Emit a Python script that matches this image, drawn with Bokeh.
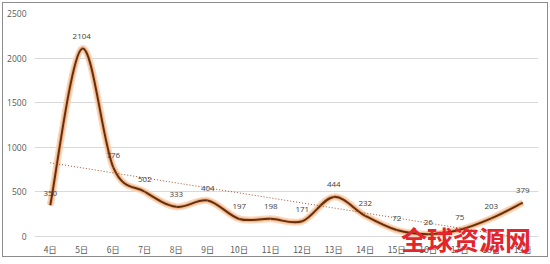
import numpy as np
from bokeh.plotting import figure
from bokeh.models import Range1d, FixedTicker, Label, ColumnDataSource
from bokeh.core.properties import value
from bokeh.embed import file_html
from bokeh.resources import INLINE

days = ["4日", "5日", "6日", "7日", "8日", "9日", "10日", "11日", "12日", "13日",
        "14日", "15日", "16日", "17日", "18日", "19日"]
counts = [350, 2104, 776, 502, 333, 404, 197, 198, 171, 444, 232, 72, 26, 75, 203, 379]
y_ticks = [0, 500, 1000, 1500, 2000, 2500]
watermark = "全球资源网"

xs = np.arange(len(days), dtype=float)
ys = np.array(counts, dtype=float)

# smoothed line segments (Catmull-Rom style Bezier control points)
n = len(xs)
seg = dict(x0=[], y0=[], x1=[], y1=[], cx0=[], cy0=[], cx1=[], cy1=[])
for i in range(n - 1):
    p0 = (xs[max(i - 1, 0)], ys[max(i - 1, 0)])
    p1 = (xs[i], ys[i])
    p2 = (xs[i + 1], ys[i + 1])
    p3 = (xs[min(i + 2, n - 1)], ys[min(i + 2, n - 1)])
    seg["x0"].append(p1[0]); seg["y0"].append(p1[1])
    seg["x1"].append(p2[0]); seg["y1"].append(p2[1])
    seg["cx0"].append(p1[0] + (p2[0] - p0[0]) / 6); seg["cy0"].append(p1[1] + (p2[1] - p0[1]) / 6)
    seg["cx1"].append(p2[0] - (p3[0] - p1[0]) / 6); seg["cy1"].append(p2[1] - (p3[1] - p1[1]) / 6)
seg_src = ColumnDataSource(seg)

# linear trendline
slope, intercept = np.polyfit(xs, ys, 1)
trend_x = [xs[0], xs[-1]]
trend_y = [intercept + slope * xs[0], intercept + slope * xs[-1]]

p = figure(width=546, height=255, output_backend="svg", toolbar_location=None,
           x_range=Range1d(-0.5, 15.5), y_range=Range1d(-246.6, 2500),
           min_border_left=31, min_border_right=11, min_border_top=10, min_border_bottom=0)
p.styles = {"margin-left": "2px", "margin-top": "2px", "border": "1px solid #8c8c8c"}
p.outline_line_color = None
p.background_fill_color = "white"
p.border_fill_color = "white"

p.xgrid.visible = False
p.ygrid.ticker = FixedTicker(ticks=y_ticks)
p.ygrid.grid_line_color = "#d9d9d9"
p.ygrid.grid_line_width = 1

p.yaxis.ticker = FixedTicker(ticks=y_ticks)
p.xaxis.ticker = FixedTicker(ticks=list(range(len(days))))
p.xaxis.major_label_overrides = {i: d for i, d in enumerate(days)}
p.xaxis.fixed_location = 0
for ax in (p.xaxis, p.yaxis):
    ax.axis_line_color = None
    ax.major_tick_line_color = None
    ax.minor_tick_line_color = None
    ax.major_tick_out = 0
    ax.major_tick_in = 0
    ax.minor_tick_out = 0
    ax.minor_tick_in = 0
    ax.major_label_text_color = "#595959"
    ax.major_label_text_font_size = "8.5px"
p.yaxis.major_label_text_font = "Open Sans"
p.xaxis.major_label_text_font = "Noto Sans CJK SC"
p.yaxis.major_label_standoff = 8
p.xaxis.major_label_standoff = 6

# glow + line
p.bezier(x0="x0", y0="y0", x1="x1", y1="y1", cx0="cx0", cy0="cy0", cx1="cx1", cy1="cy1",
         source=seg_src, line_color="#f9d2b2", line_width=7, line_alpha=0.9)
p.bezier(x0="x0", y0="y0", x1="x1", y1="y1", cx0="cx0", cy0="cy0", cx1="cx1", cy1="cy1",
         source=seg_src, line_color="#f0ab7a", line_width=4, line_alpha=0.8)
p.bezier(x0="x0", y0="y0", x1="x1", y1="y1", cx0="cx0", cy0="cy0", cx1="cx1", cy1="cy1",
         source=seg_src, line_color="#63300f", line_width=2)

# trendline
p.line(trend_x, trend_y, line_color="#a0522d", line_width=1, line_dash="1 2")

# data labels
lab_src = ColumnDataSource(dict(x=xs, y=ys, t=[str(c) for c in counts]))
p.text(x="x", y="y", text="t", source=lab_src, y_offset=-12, text_align="center",
       text_baseline="middle", text_font=value("Open Sans"), text_font_size="8px",
       text_color="#404040")

# watermark
p.add_layout(Label(x=13.2, y=-22, text=watermark, text_align="center", text_baseline="middle",
                   text_font="Noto Sans CJK SC", text_font_size="26px", text_font_style="bold",
                   text_color="#e3262b"))

open("out.html", "w").write(file_html(p, INLINE))
